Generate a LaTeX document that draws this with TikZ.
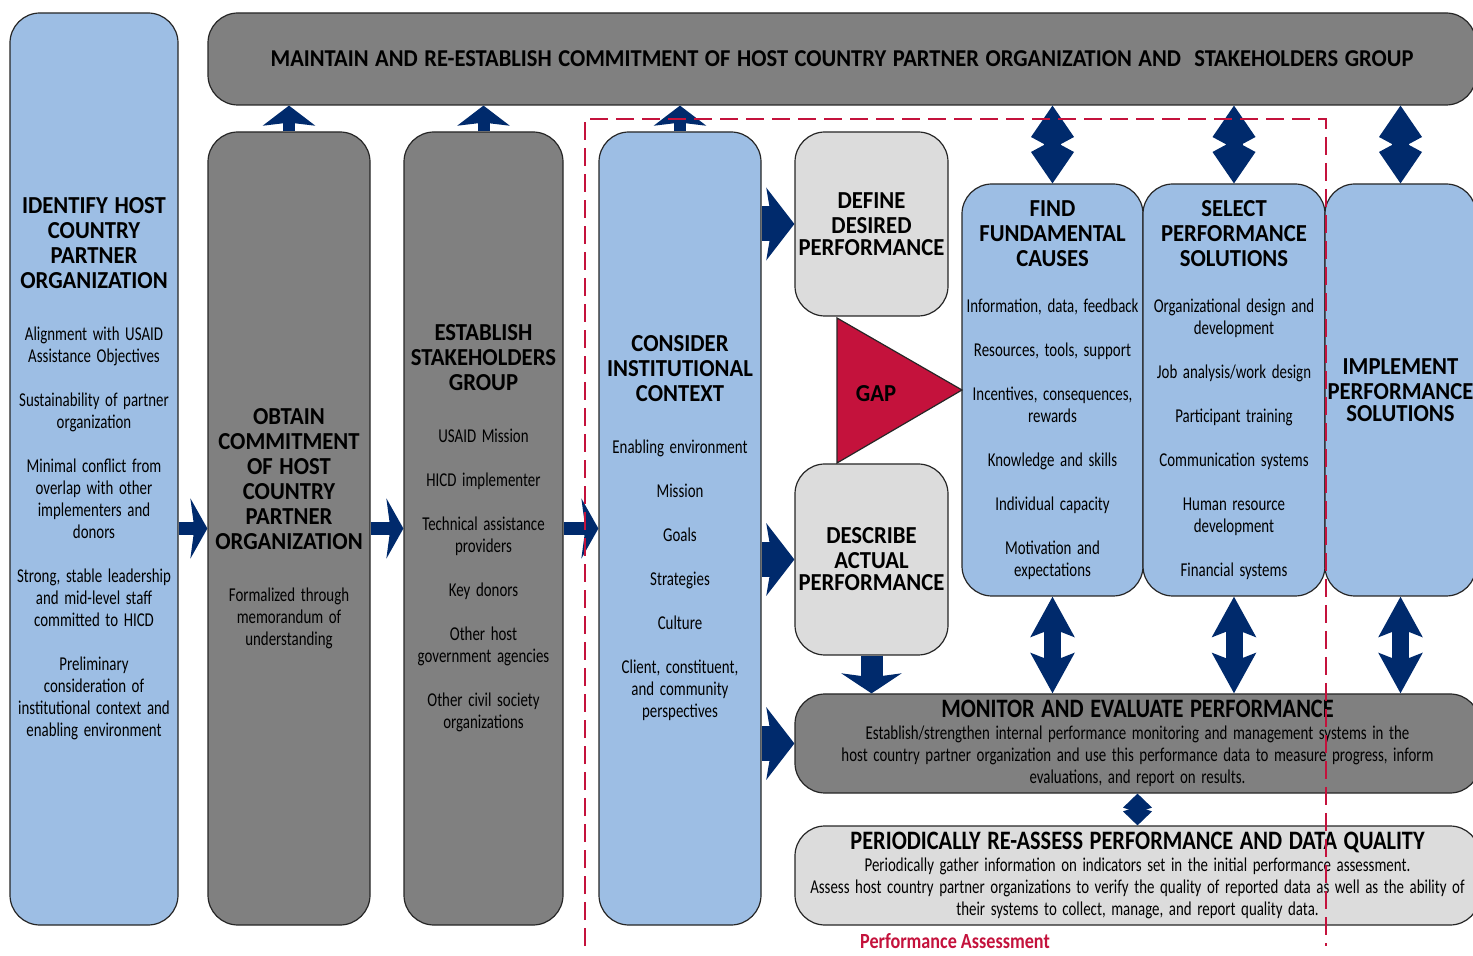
\documentclass[tikz,border=0pt]{standalone}
\usepackage{fontspec}
\setmainfont{Carlito}
\newfontfamily\bodyfam{Carlito}[FakeStretch=0.76]
\newfontfamily\headfam{Carlito}[FakeStretch=0.93]
\newfontfamily\barfam{Carlito}[FakeStretch=0.84]
\usetikzlibrary{arrows.meta}
\definecolor{stageblue}{RGB}{157,190,228}
\definecolor{stagegrey}{RGB}{128,128,128}
\definecolor{stagelight}{RGB}{220,220,220}
\definecolor{flownavy}{RGB}{0,42,108}
\definecolor{gapred}{RGB}{196,18,60}
\newcommand\hd{\headfam\bfseries\fontsize{12.2}{12.5}\selectfont\spaceskip=3.3pt\relax}
\newcommand\bd{\bodyfam\fontsize{9.8}{11}\selectfont}
\newcommand\barhd{\barfam\bfseries\fontsize{13.3}{13.5}\selectfont\spaceskip=3.3pt\relax}
\tikzset{
  stage/.style     ={draw=black!85, line width=0.6pt, rounded corners=15pt, inner xsep=0pt,
                     inner ysep=0pt, align=center, font=\bd,
                     execute at begin node={\spaceskip=2.8pt\relax}},
  bluestage/.style ={stage, fill=stageblue},
  greystage/.style ={stage, fill=stagegrey},
  lightstage/.style={stage, fill=stagelight},
  fwd/.style       ={draw=flownavy, line width=6.5pt, -{Stealth[length=8.5pt,width=30pt,inset=2pt]}},
  fwdbig/.style    ={draw=flownavy, line width=17.5pt, -{Stealth[length=14pt,width=36pt,inset=3pt]}},
  upflow/.style    ={draw=flownavy, line width=6pt, -{Stealth[length=10pt,width=26pt,inset=1.5pt]}},
  downflow/.style  ={draw=flownavy, line width=11pt, -{Stealth[length=10pt,width=30pt,inset=2pt]}},
  twoway/.style    ={draw=flownavy, line width=8.5pt,
                     {Kite[length=21.5pt,width=21.5pt,inset=5.8pt]}-{Kite[length=21.5pt,width=21.5pt,inset=5.8pt]}},
  twowaylow/.style ={draw=flownavy, line width=8.5pt,
                     {Stealth[length=20pt,width=21.5pt,inset=4pt]}-{Stealth[length=20pt,width=21.5pt,inset=4pt]}},
  twowaysmall/.style={draw=flownavy, line width=4.5pt,
                     {Kite[length=9.5pt,width=14.5pt,inset=2.5pt]}-{Kite[length=9.5pt,width=14.5pt,inset=2.5pt]}},
  assess/.style    ={draw=gapred, line width=0.8pt, dash pattern=on 9pt off 4pt}
}

\begin{document}
\begin{tikzpicture}[x=0.5pt, y=-0.5pt]
\useasboundingbox (0,0) rectangle (1473,956);

% stages
\node[bluestage, text width=84pt, minimum height=456pt] (identify) at (94,469)
  {{\hd IDENTIFY HOST\\COUNTRY\\PARTNER\\ORGANIZATION\\[15pt]}
   Alignment with USAID\\Assistance Objectives\\[11pt]
   Sustainability of partner\\organization\\[11pt]
   Minimal conflict from\\overlap with other\\implementers and\\donors\\[11pt]
   Strong, stable leadership\\and mid-level staff\\committed to HICD\\[11pt]
   Preliminary\\consideration of\\institutional context and\\enabling environment};
\node[greystage, text width=634pt, minimum height=46pt] (maintain) at (842,59)
  {\hd\fontsize{12.1}{12.5}\selectfont MAINTAIN AND RE-ESTABLISH COMMITMENT OF HOST COUNTRY PARTNER ORGANIZATION AND\ \ STAKEHOLDERS GROUP};
\node[greystage, text width=81pt, minimum height=396.5pt] (obtain) at (289,528.5)
  {{\hd OBTAIN\\COMMITMENT\\OF HOST\\COUNTRY\\PARTNER\\ORGANIZATION\\[15pt]}
   Formalized through\\memorandum of\\understanding};
\node[greystage, text width=79.5pt, minimum height=396.5pt] (establish) at (483.5,528.5)
  {{\hd ESTABLISH\\STAKEHOLDERS\\GROUP\\[15pt]}
   USAID Mission\\[11pt]
   HICD implementer\\[11pt]
   Technical assistance\\providers\\[11pt]
   Key donors\\[11pt]
   Other host\\government agencies\\[11pt]
   Other civil society\\organizations};
\node[bluestage, text width=81pt, minimum height=396.5pt] (consider) at (680,528.5)
  {{\hd CONSIDER\\INSTITUTIONAL\\CONTEXT\\[15pt]}
   Enabling environment\\[11pt]
   Mission\\[11pt]
   Goals\\[11pt]
   Strategies\\[11pt]
   Culture\\[11pt]
   Client, constituent,\\and community\\perspectives};
\node[lightstage, text width=76.5pt, minimum height=92pt] (define) at (871.5,224)
  {\hd DEFINE\\DESIRED\\PERFORMANCE};
\node[lightstage, text width=76.5pt, minimum height=95.5pt] (describe) at (871.5,559.5)
  {\hd DESCRIBE\\ACTUAL\\PERFORMANCE};
\node[bluestage, text width=90.5pt, minimum height=206pt] (find) at (1052.5,390)
  {{\hd FIND\\FUNDAMENTAL\\CAUSES\\[12pt]}
   Information, data, feedback\\[11pt]
   Resources, tools, support\\[11pt]
   Incentives, consequences,\\rewards\\[11pt]
   Knowledge and skills\\[11pt]
   Individual capacity\\[11pt]
   Motivation and\\expectations};
\node[bluestage, text width=91pt, minimum height=206pt] (select) at (1234,390)
  {{\hd SELECT\\PERFORMANCE\\SOLUTIONS\\[12pt]}
   Organizational design and\\development\\[11pt]
   Job analysis/work design\\[11pt]
   Participant training\\[11pt]
   Communication systems\\[11pt]
   Human resource\\development\\[11pt]
   Financial systems};
\node[bluestage, text width=75.5pt, minimum height=206pt] (implement) at (1400.5,390)
  {\hd IMPLEMENT\\PERFORMANCE\\SOLUTIONS};
\node[greystage, text width=342.5pt, minimum height=49.5pt] (monitor) at (1137.5,743.5)
  {{\barhd MONITOR AND EVALUATE PERFORMANCE\\[0pt]}
   Establish/strengthen internal performance monitoring and management systems in the\\
   host country partner organization and use this performance data to measure progress, inform\\
   evaluations, and report on results.};
\node[lightstage, text width=342.5pt, minimum height=49.5pt] (reassess) at (1137.5,875.5)
  {{\barhd PERIODICALLY RE-ASSESS PERFORMANCE AND DATA QUALITY\\[0pt]}
   Periodically gather information on indicators set in the initial performance assessment.\\
   Assess host country partner organizations to verify the quality of reported data as well as the ability of\\
   their systems to collect, manage, and report quality data.};

% the gap between desired and actual performance
\draw[fill=gapred, draw=black!85, line width=0.6pt] (837,318) -- (962,390) -- (837,463) -- cycle;
\node[font=\hd] (gap) at (876,394) {GAP};

% flow arrows
\draw[fwd] (obtain.west -| identify.east) -- (obtain.west);
\draw[fwd] (obtain.east) -- (establish.west);
\draw[fwd] (establish.east) -- (consider.west);
\draw[fwdbig] (define.west -| consider.east) -- (define.west);
\draw[fwdbig] (describe.west -| consider.east) -- (describe.west);
\draw[fwdbig] (monitor.west -| consider.east) -- (monitor.west);
\foreach \s in {obtain,establish,consider}
  \draw[upflow] (\s.north) -- (\s.north |- maintain.south);
\foreach \s in {find,select,implement} {
  \draw[twoway] (\s.north) -- (\s.north |- maintain.south);
  \draw[twowaylow] (\s.south) -- (\s.south |- monitor.north);
}
\draw[downflow] (describe.south) -- (describe.south |- monitor.north);
\draw[twowaysmall] (monitor.south) -- (reassess.north);

% performance assessment frame
\draw[assess] (585,946) |- (1326,119) -- (1326,946);
\node[font=\barfam\bfseries\fontsize{10.8}{12}\selectfont, text=gapred] (palabel) at (955,941)
  {Performance Assessment};
\end{tikzpicture}
\end{document}
